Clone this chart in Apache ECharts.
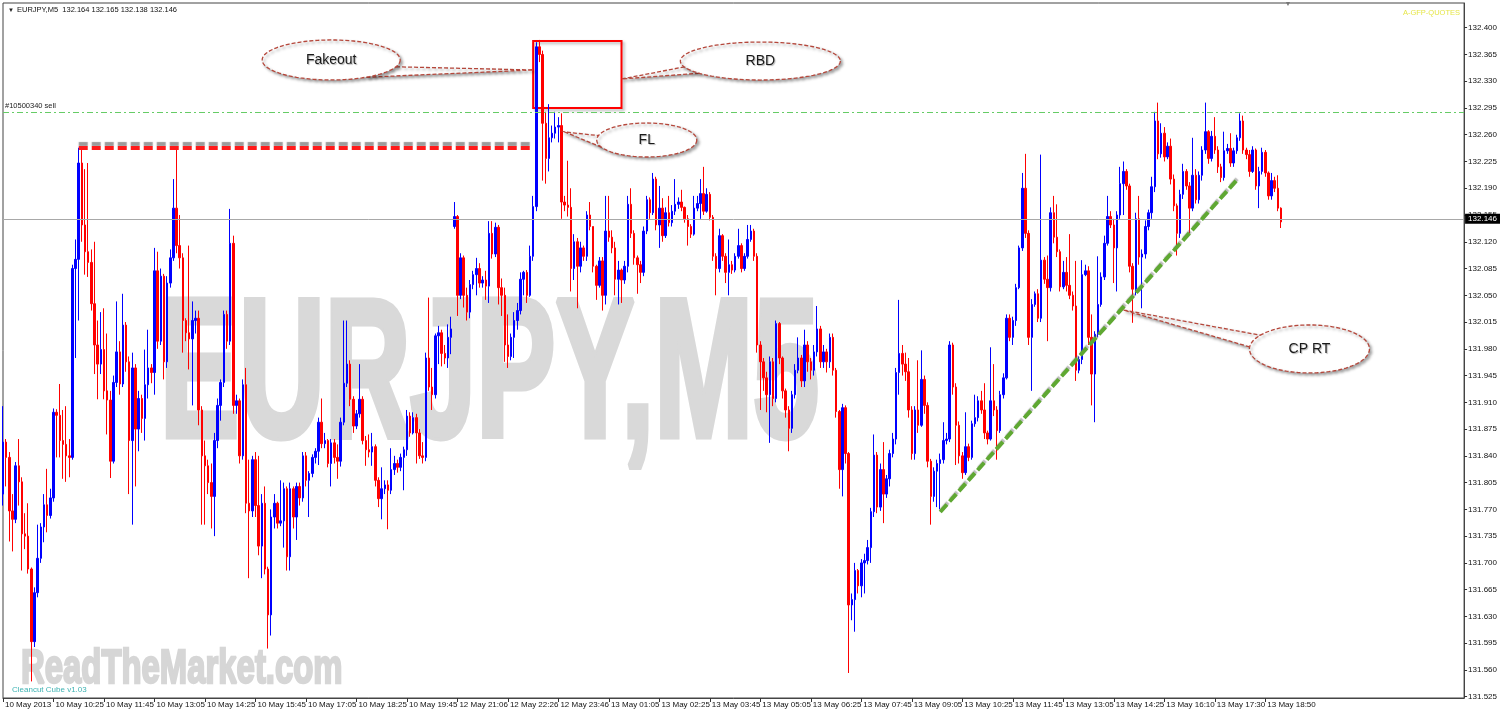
<!DOCTYPE html>
<html><head><meta charset="utf-8">
<script src="https://cdn.jsdelivr.net/npm/echarts@6/dist/echarts.min.js"></script>
<style>html,body{margin:0;padding:0;background:#fff;}#c{width:1500px;height:719px;}</style>
</head><body><div id="c"></div>
<script>
// ---- DATA (EURJPY M5) ----
const opens=[
131.790,131.858,131.838,131.768,131.757,131.827,131.806,131.738,131.735,131.692,
131.597,131.661,131.706,131.747,131.776,131.762,131.785,131.897,131.893,131.860,
131.855,131.840,131.838,132.085,132.097,132.223,132.142,132.107,132.093,132.039,
131.985,131.960,131.979,131.925,131.913,131.833,131.936,131.976,131.934,132.011,
131.963,131.860,131.955,131.875,131.915,131.889,131.933,131.955,131.949,132.082,
131.990,132.075,131.963,132.066,132.099,132.164,132.115,132.099,132.017,132.001,
131.993,132.017,132.020,131.900,131.840,131.827,131.805,131.787,131.860,131.906,
131.936,132.025,131.990,132.118,131.906,131.912,131.840,131.933,131.778,131.768,
131.835,131.775,131.722,131.778,131.692,131.632,131.760,131.778,131.752,131.755,
131.797,131.708,131.797,131.760,131.800,131.785,131.840,131.808,131.817,131.838,
131.846,131.884,131.856,131.860,131.830,131.857,131.838,131.833,131.884,131.935,
131.960,131.914,131.879,131.895,131.914,131.860,131.848,131.845,131.852,131.808,
131.784,131.797,131.802,131.795,131.822,131.830,131.825,131.838,131.848,131.892,
131.870,131.890,131.870,131.840,131.838,131.968,131.930,131.920,131.997,132.001,
131.974,131.968,131.995,132.140,132.153,132.050,132.099,132.050,132.028,132.064,
132.077,132.085,132.066,132.070,132.062,132.131,132.104,132.139,132.060,132.050,
131.985,131.970,131.995,132.017,132.030,132.071,132.080,132.050,132.101,132.166,
132.375,132.365,132.275,132.229,132.256,132.262,132.270,132.272,132.172,132.168,
132.165,132.085,132.120,132.088,132.112,132.101,132.155,132.140,132.088,132.063,
132.095,132.050,132.134,132.126,132.112,132.071,132.083,132.070,132.088,132.169,
132.131,132.099,132.090,132.080,132.134,132.175,132.158,132.202,132.142,132.164,
132.128,132.158,132.145,132.160,132.169,132.172,132.165,132.150,132.140,132.130,
132.164,132.170,132.183,132.160,132.182,132.152,132.101,132.085,132.128,132.101,
132.080,132.090,132.083,132.101,132.115,132.085,132.101,132.123,132.134,132.101,
131.985,131.963,131.942,131.920,131.963,131.915,132.013,131.968,131.925,131.900,
131.876,131.920,131.952,131.968,131.938,131.985,131.963,131.952,131.976,132.006,
131.963,131.976,131.963,131.995,131.952,131.898,131.822,131.903,131.843,131.645,
131.652,131.690,131.670,131.700,131.703,131.720,131.767,131.841,131.773,131.822,
131.790,131.810,131.843,131.862,131.949,131.974,131.960,131.950,131.900,131.843,
131.900,131.880,131.940,131.906,131.833,131.787,131.820,131.830,131.835,131.860,
131.862,131.985,131.930,131.880,131.840,131.818,131.852,131.838,131.882,131.890,
131.912,131.900,131.870,131.862,131.912,131.900,131.873,131.920,131.942,132.020,
131.995,132.017,132.060,132.112,132.190,132.131,131.995,132.038,132.052,132.020,
132.096,132.071,132.060,132.158,132.126,132.107,132.061,132.080,132.063,132.050,
132.036,131.952,131.966,132.077,132.082,131.995,131.947,131.999,132.038,132.074,
132.118,132.153,132.142,132.112,132.155,132.196,132.212,132.193,132.088,132.058,
132.150,132.100,132.104,132.140,132.158,132.192,132.278,132.235,132.262,132.231,
132.245,132.202,132.167,132.131,132.182,132.212,132.193,132.164,132.207,132.175,
132.207,132.240,132.264,132.229,132.258,132.240,132.218,132.204,132.239,132.242,
132.223,132.239,132.256,132.278,132.240,132.234,132.212,132.240,132.193,132.212,
132.237,132.210,132.180,132.200,132.190,132.164];
const closes=[
131.858,131.838,131.768,131.757,131.827,131.806,131.738,131.735,131.692,131.597,
131.661,131.706,131.747,131.776,131.762,131.785,131.897,131.893,131.860,131.855,
131.840,131.838,132.085,132.097,132.223,132.142,132.107,132.093,132.039,131.985,
131.960,131.979,131.925,131.913,131.833,131.936,131.976,131.934,132.011,131.963,
131.860,131.955,131.875,131.915,131.889,131.933,131.955,131.949,132.082,131.990,
132.075,131.963,132.066,132.099,132.164,132.115,132.099,132.017,132.001,131.993,
132.017,132.020,131.900,131.840,131.827,131.805,131.787,131.860,131.906,131.936,
132.025,131.990,132.118,131.906,131.912,131.840,131.933,131.778,131.768,131.835,
131.775,131.722,131.778,131.692,131.632,131.760,131.778,131.752,131.755,131.797,
131.708,131.797,131.760,131.800,131.785,131.840,131.808,131.817,131.838,131.846,
131.884,131.856,131.860,131.830,131.857,131.838,131.833,131.884,131.935,131.960,
131.914,131.879,131.895,131.914,131.860,131.848,131.845,131.852,131.808,131.784,
131.797,131.802,131.795,131.822,131.830,131.825,131.838,131.848,131.892,131.870,
131.890,131.870,131.840,131.838,131.968,131.930,131.920,131.997,132.001,131.974,
131.968,131.995,132.006,132.153,132.050,132.099,132.050,132.028,132.064,132.077,
132.085,132.066,132.070,132.062,132.131,132.104,132.139,132.060,132.050,131.985,
131.970,131.995,132.017,132.030,132.071,132.080,132.050,132.101,132.166,132.375,
132.365,132.275,132.229,132.256,132.262,132.270,132.272,132.172,132.168,132.165,
132.085,132.120,132.088,132.112,132.101,132.155,132.140,132.088,132.063,132.095,
132.050,132.134,132.126,132.112,132.071,132.083,132.070,132.088,132.169,132.131,
132.099,132.090,132.080,132.134,132.175,132.158,132.202,132.142,132.164,132.128,
132.158,132.145,132.160,132.169,132.172,132.165,132.150,132.140,132.130,132.164,
132.170,132.183,132.160,132.182,132.152,132.101,132.085,132.128,132.101,132.080,
132.090,132.083,132.101,132.115,132.085,132.101,132.123,132.134,132.101,131.985,
131.963,131.942,131.920,131.963,131.915,132.013,131.968,131.925,131.900,131.876,
131.920,131.952,131.968,131.938,131.985,131.963,131.952,131.976,132.006,131.963,
131.976,131.963,131.995,131.952,131.898,131.822,131.903,131.843,131.645,131.652,
131.690,131.670,131.700,131.703,131.720,131.767,131.841,131.773,131.822,131.790,
131.810,131.843,131.862,131.949,131.974,131.960,131.950,131.900,131.843,131.900,
131.880,131.940,131.906,131.833,131.787,131.820,131.830,131.835,131.860,131.862,
131.985,131.930,131.880,131.840,131.818,131.852,131.838,131.882,131.890,131.912,
131.900,131.870,131.862,131.912,131.900,131.873,131.920,131.942,132.020,131.995,
132.017,132.060,132.112,132.190,132.131,131.995,132.038,132.052,132.020,132.096,
132.071,132.060,132.158,132.126,132.107,132.061,132.080,132.063,132.050,132.036,
131.952,131.966,132.077,132.082,131.995,131.947,131.999,132.038,132.074,132.118,
132.153,132.142,132.112,132.155,132.196,132.212,132.193,132.088,132.058,132.150,
132.100,132.104,132.140,132.158,132.192,132.278,132.235,132.262,132.231,132.245,
132.202,132.167,132.131,132.182,132.212,132.193,132.164,132.207,132.175,132.207,
132.240,132.264,132.229,132.258,132.240,132.218,132.204,132.239,132.242,132.223,
132.239,132.256,132.278,132.240,132.234,132.212,132.240,132.193,132.212,132.237,
132.210,132.180,132.200,132.190,132.164,132.146];
const highs=[
131.905,131.862,131.845,131.790,131.832,131.862,131.812,131.765,131.778,131.694,
131.668,131.750,131.752,131.790,131.823,131.797,131.902,131.901,131.934,131.900,
131.905,131.862,132.090,132.123,132.243,132.240,132.215,132.223,132.110,132.120,
132.017,132.028,132.033,132.000,131.925,131.945,132.042,131.990,132.052,132.015,
131.970,131.975,131.960,131.925,131.920,131.979,132.005,131.960,132.112,132.107,
132.085,132.078,132.075,132.110,132.202,132.240,132.155,132.105,132.020,132.115,
132.042,132.030,132.030,131.905,131.860,131.835,131.830,131.870,131.915,131.940,
132.030,132.030,132.163,132.128,131.920,131.915,131.940,131.955,131.835,131.840,
131.845,131.840,131.790,131.800,131.695,131.770,131.790,131.780,131.808,131.805,
131.800,131.805,131.800,131.805,131.805,131.845,131.845,131.820,131.842,131.850,
131.890,131.915,131.870,131.862,131.862,131.862,131.855,131.890,132.017,132.017,
131.965,131.918,131.900,131.960,131.918,131.866,131.868,131.870,131.855,131.812,
131.825,131.808,131.808,131.850,131.840,131.835,131.843,131.852,131.900,131.897,
131.897,131.895,131.875,131.858,131.975,132.047,131.955,132.000,132.010,132.005,
131.985,132.012,132.022,132.172,132.155,132.105,132.102,132.060,132.070,132.082,
132.099,132.092,132.075,132.082,132.147,132.147,132.145,132.142,132.072,132.060,
132.025,132.000,132.028,132.040,132.080,132.082,132.083,132.115,132.180,132.381,
132.384,132.370,132.290,132.300,132.272,132.290,132.283,132.288,132.180,132.226,
132.190,132.130,132.125,132.120,132.115,132.160,132.172,132.140,132.090,132.100,
132.100,132.180,132.180,132.135,132.120,132.095,132.085,132.095,132.180,132.190,
132.135,132.102,132.095,132.140,132.180,132.178,132.210,132.205,132.193,132.177,
132.165,132.180,132.168,132.202,132.178,132.188,132.166,132.155,132.143,132.180,
132.180,132.202,132.218,132.190,132.185,132.155,132.105,132.137,132.130,132.105,
132.123,132.095,132.105,132.137,132.118,132.105,132.142,132.142,132.137,132.105,
131.990,131.968,131.950,131.970,131.968,132.017,132.015,131.970,131.928,131.905,
131.925,131.960,131.995,131.972,132.005,131.990,131.968,131.985,132.036,132.010,
131.985,131.980,132.000,132.000,131.955,131.900,131.908,131.906,131.845,131.660,
131.700,131.692,131.705,131.712,131.730,131.772,131.868,131.845,131.830,131.858,
131.815,131.848,131.870,131.955,132.044,131.985,131.975,131.968,131.905,131.905,
131.965,131.978,131.945,131.910,131.836,131.825,131.835,131.843,131.884,131.870,
131.990,131.988,131.935,131.885,131.845,131.897,131.856,131.886,131.920,131.918,
131.925,131.935,131.873,131.982,131.960,131.905,131.925,131.948,132.025,132.025,
132.022,132.065,132.115,132.210,132.235,132.135,132.045,132.055,132.058,132.234,
132.100,132.102,132.165,132.180,132.169,132.110,132.095,132.100,132.130,132.055,
132.095,131.970,132.096,132.090,132.088,132.025,132.003,132.101,132.080,132.128,
132.180,132.160,132.150,132.160,132.218,132.225,132.215,132.196,132.092,132.158,
132.180,132.110,132.148,132.162,132.205,132.290,132.302,132.275,132.270,132.250,
132.255,132.208,132.170,132.188,132.222,132.215,132.198,132.256,132.215,132.212,
132.245,132.302,132.266,132.265,132.283,132.245,132.222,132.264,132.248,132.262,
132.243,132.260,132.288,132.285,132.243,132.240,132.245,132.242,132.218,132.243,
132.240,132.212,132.210,132.205,132.207,132.165];
const lows=[
131.775,131.800,131.728,131.715,131.752,131.775,131.690,131.718,131.686,131.545,
131.590,131.655,131.700,131.727,131.740,131.758,131.780,131.838,131.838,131.810,
131.806,131.812,131.835,131.968,132.017,132.120,132.077,132.074,132.030,131.947,
131.914,131.947,131.914,131.868,131.811,131.830,131.930,131.920,131.930,131.950,
131.790,131.750,131.800,131.846,131.870,131.860,131.915,131.935,131.920,131.980,
131.985,131.940,131.955,132.060,132.095,132.105,132.085,131.975,131.990,131.953,
131.906,132.000,131.880,131.750,131.750,131.790,131.745,131.735,131.850,131.886,
131.930,131.980,131.985,131.895,131.895,131.830,131.835,131.765,131.680,131.760,
131.760,131.710,131.680,131.685,131.588,131.605,131.745,131.745,131.748,131.720,
131.690,131.690,131.745,131.730,131.775,131.780,131.800,131.760,131.812,131.830,
131.828,131.850,131.850,131.825,131.800,131.830,131.810,131.826,131.880,131.930,
131.905,131.870,131.875,131.890,131.855,131.827,131.838,131.827,131.800,131.773,
131.757,131.790,131.744,131.790,131.815,131.818,131.820,131.795,131.840,131.865,
131.868,131.830,131.836,131.830,131.833,131.925,131.900,131.915,131.960,131.957,
131.960,131.955,131.973,132.137,132.023,132.045,132.034,132.017,132.020,132.058,
132.050,132.060,132.060,132.044,132.040,132.098,132.100,132.038,132.023,131.963,
131.955,131.965,131.968,132.005,132.025,132.050,132.040,132.048,132.095,132.160,
132.355,132.200,132.196,132.212,132.250,132.255,132.250,132.150,132.160,132.153,
132.055,132.070,132.033,132.080,132.095,132.095,132.135,132.080,132.044,132.060,
132.030,132.038,132.120,132.105,132.050,132.038,132.040,132.065,132.080,132.125,
132.090,132.052,132.066,132.075,132.130,132.150,132.155,132.135,132.112,132.120,
132.125,132.140,132.140,132.155,132.163,132.160,132.145,132.115,132.125,132.128,
132.160,132.150,132.155,132.158,132.148,132.095,132.050,132.080,132.095,132.066,
132.050,132.078,132.080,132.098,132.080,132.082,132.098,132.120,132.095,131.975,
131.900,131.925,131.897,131.857,131.905,131.910,131.960,131.915,131.890,131.846,
131.870,131.915,131.948,131.930,131.930,131.950,131.940,131.945,131.970,131.955,
131.955,131.949,131.955,131.945,131.890,131.797,131.787,131.830,131.556,131.625,
131.610,131.660,131.655,131.660,131.698,131.700,131.760,131.765,131.768,131.752,
131.785,131.800,131.838,131.855,131.920,131.945,131.938,131.890,131.835,131.835,
131.870,131.878,131.895,131.825,131.750,131.780,131.773,131.770,131.830,131.855,
131.858,131.920,131.828,131.830,131.810,131.815,131.833,131.835,131.878,131.885,
131.895,131.862,131.855,131.860,131.892,131.835,131.870,131.915,131.940,131.990,
131.985,132.010,132.058,132.108,132.125,131.985,131.925,132.035,132.015,132.015,
132.065,131.990,132.055,132.118,132.100,132.055,132.058,132.055,132.045,132.030,
131.938,131.948,131.960,132.075,131.985,131.906,131.884,131.995,132.035,132.070,
132.115,132.138,132.066,132.055,132.150,132.155,132.188,132.080,132.014,132.050,
132.090,132.033,132.098,132.135,132.150,132.185,132.228,132.230,132.225,132.228,
132.195,132.160,132.102,132.125,132.176,132.188,132.131,132.160,132.170,132.170,
132.200,132.235,132.222,132.225,132.235,132.210,132.198,132.200,132.235,132.218,
132.218,132.235,132.252,132.235,132.228,132.205,132.210,132.188,132.164,132.208,
132.205,132.175,132.175,132.185,132.160,132.138];
const tickLabels=['10 May 2013','10 May 10:25','10 May 11:45','10 May 13:05','10 May 14:25','10 May 15:45','10 May 17:05','10 May 18:25','10 May 19:45','12 May 21:06','12 May 22:26','12 May 23:46','13 May 01:05','13 May 02:25','13 May 03:45','13 May 05:05','13 May 06:25','13 May 07:45','13 May 09:05','13 May 10:25','13 May 11:45','13 May 13:05','13 May 14:25','13 May 16:10','13 May 17:30','13 May 18:50'];
const priceTicks=[131.525,131.560,131.595,131.630,131.665,131.700,131.735,131.770,131.805,131.840,131.875,131.910,131.945,131.980,132.015,132.050,132.085,132.120,132.155,132.190,132.225,132.260,132.295,132.330,132.365,132.400];
const currentPrice=132.146;
const orderPrice=132.288;
const orderLabel='#10500340 sell';
const headerText='EURJPY,M5  132.164 132.165 132.138 132.146';
const resistanceLine=[[24,132.2426],[167,132.2426]];
const trendLine=[[297,131.7666],[391,132.2008]];
const rbdBox=[[168,132.3826],[196,132.295]];
const callouts=[
  {text:'Fakeout',at:[104,132.3578],rx:69,ry:20,tip:[168,132.3447],a1:20,a2:60},
  {text:'RBD',at:[240,132.3564],rx:80,ry:19,tip:[196,132.3329],a1:140,a2:162},
  {text:'FL',at:[204,132.2531],rx:50,ry:17,tip:[178,132.2636],a1:155,a2:195},
  {text:'CP RT',at:[414,131.9798],rx:60,ry:24,tip:[355,132.0308],a1:185,a2:215}
];

// ---- CHART ----
const FONT='"Liberation Sans", Arial, sans-serif';
const SLOTS=464, EVERY=16;
const cats=Array.from({length:SLOTS},(_,i)=>String(i));
const candles=opens.map((o,i)=>[o,closes[i],lows[i],highs[i]]);
const showTick=(i)=>i%EVERY===0 && (i/EVERY)<tickLabels.length;

const chart=echarts.init(document.getElementById('c'));
chart.setOption({
  animation:false,
  backgroundColor:'#fff',
  grid:{left:3,right:35,top:3,bottom:21,show:true,borderColor:'#444',borderWidth:1,backgroundColor:'transparent'},
  xAxis:{type:'category',data:cats,boundaryGap:false,
    axisLine:{show:true,lineStyle:{color:'#444'}},
    axisTick:{show:true,interval:(i)=>showTick(i),length:4,lineStyle:{color:'#333'}},
    axisLabel:{interval:(i)=>showTick(i),formatter:(v,i)=>tickLabels[i/EVERY]||'',align:'left',margin:3,padding:[0,0,0,2],fontSize:8,color:'#111',fontFamily:FONT},
    splitLine:{show:false}},
  yAxis:{type:'value',position:'right',min:131.5233,max:132.4323,
    axisLine:{show:true,lineStyle:{color:'#444'}},
    axisTick:{show:true,customValues:priceTicks,length:3,lineStyle:{color:'#333'}},
    axisLabel:{customValues:priceTicks,formatter:v=>v.toFixed(3),fontSize:8,color:'#111',margin:4,fontFamily:FONT},
    splitLine:{show:false}},
  series:[{
    type:'candlestick',data:candles,barWidth:2,barMinWidth:2,z:3,large:false,
    itemStyle:{color:'#0000ff',color0:'#ff0000',borderColor:'#0000ff',borderColor0:'#ff0000',borderWidth:1},
    markLine:{silent:true,symbol:['none','none'],animation:false,
      data:[
        {yAxis:currentPrice,lineStyle:{color:'#a8a8a8',type:'solid',width:1},
         label:{show:true,position:'end',formatter:currentPrice.toFixed(3),backgroundColor:'#000',color:'#fff',fontSize:8,fontFamily:FONT,padding:[1,3,1,3],distance:1}},
        {yAxis:orderPrice,lineStyle:{color:'#66cc66',type:[6,3,2,3],width:1},
         label:{show:true,position:'insideStartTop',formatter:orderLabel,color:'#222',fontSize:7.5,fontFamily:FONT,distance:2}},
        [{coord:[String(resistanceLine[0][0]),resistanceLine[0][1]],
          lineStyle:{color:'#ff1a1a',width:4,type:[9,4],shadowColor:'rgba(90,90,90,0.6)',shadowOffsetY:-4,shadowBlur:1},label:{show:false}},
         {coord:[String(resistanceLine[1][0]),resistanceLine[1][1]]}],
        [{coord:[String(trendLine[0][0]),trendLine[0][1]],
          lineStyle:{color:'#5fa832',width:4,type:[10,4],shadowColor:'rgba(100,100,100,0.45)',shadowOffsetX:1,shadowOffsetY:-2,shadowBlur:1},label:{show:false}},
         {coord:[String(trendLine[1][0]),trendLine[1][1]]}]
      ]},
    markArea:{silent:true,label:{show:false},
      data:[[{coord:[String(rbdBox[0][0]),rbdBox[0][1]],
        itemStyle:{color:'rgba(0,0,0,0)',borderColor:'#ff0000',borderWidth:2,shadowColor:'rgba(0,0,0,0.3)',shadowBlur:3,shadowOffsetX:2,shadowOffsetY:2}},
        {coord:[String(rbdBox[1][0]),rbdBox[1][1]]}]]}
  }]
});

// ---- annotations / watermarks ----
const px=(bar,price)=>chart.convertToPixel({gridIndex:0},[String(bar),price]);
const els=[];
els.push({type:'text',x:160,y:382,scaleX:0.605,z:0,silent:true,
  style:{text:'EURJPY,M5',font:'bold 196px '+FONT,fill:'#d9d9d9',stroke:'#d9d9d9',lineWidth:7,align:'left',verticalAlign:'middle'}});
els.push({type:'text',x:21,y:670,scaleX:0.685,z:0,silent:true,
  style:{text:'ReadTheMarket.com',font:'bold 48px '+FONT,fill:'#d6d6d6',stroke:'#d6d6d6',lineWidth:2.5,align:'left',verticalAlign:'middle'}});
els.push({type:'text',x:12,y:690,z:1,silent:true,style:{text:'Cleancut Cube v1.03',font:'8px '+FONT,fill:'#3fb3b3',verticalAlign:'middle'}});
els.push({type:'text',x:8,y:10,z:1,silent:true,style:{text:'\u25BC',font:'6px '+FONT,fill:'#222',verticalAlign:'middle'}});
els.push({type:'text',x:17,y:10,z:1,silent:true,style:{text:headerText,font:'7.5px '+FONT,fill:'#111',verticalAlign:'middle'}});
els.push({type:'text',x:1460,y:13,z:1,silent:true,style:{text:'A-GFP-QUOTES',font:'7.5px '+FONT,fill:'#e6e64a',align:'right',verticalAlign:'middle'}});
els.push({type:'text',x:1288,y:4,z:1,silent:true,style:{text:'\u25BC',font:'7px '+FONT,fill:'#777',align:'center',verticalAlign:'middle'}});

const dashStyle={stroke:'#b5473b',lineWidth:1.3,lineDash:[4,2],fill:'#fff',shadowBlur:3,shadowColor:'rgba(0,0,0,0.35)',shadowOffsetX:2,shadowOffsetY:2};
callouts.forEach(c=>{
  const [cx,cy]=px(c.at[0],c.at[1]);
  const [tx,ty]=px(c.tip[0],c.tip[1]);
  const pt=(deg)=>[cx+c.rx*Math.cos(deg*Math.PI/180),cy+c.ry*Math.sin(deg*Math.PI/180)];
  els.push({type:'polygon',z:10,silent:true,shape:{points:[pt(c.a1),[tx,ty],pt(c.a2)]},style:Object.assign({},dashStyle)});
  const pts=[];
  for(let k=0;k<96;k++){const a=k/96*2*Math.PI;pts.push([cx+c.rx*Math.cos(a),cy+c.ry*Math.sin(a)]);}
  els.push({type:'polygon',z:11,silent:true,shape:{points:pts},style:Object.assign({},dashStyle)});
  els.push({type:'text',z:12,silent:true,x:cx,y:cy,style:{text:c.text,font:'14px '+FONT,fill:'#1a1a1a',align:'center',verticalAlign:'middle',
    textShadowColor:'rgba(0,0,0,0.3)',textShadowBlur:1,textShadowOffsetX:1,textShadowOffsetY:1}});
});
chart.setOption({graphic:{elements:els}});
</script>
</body></html>
